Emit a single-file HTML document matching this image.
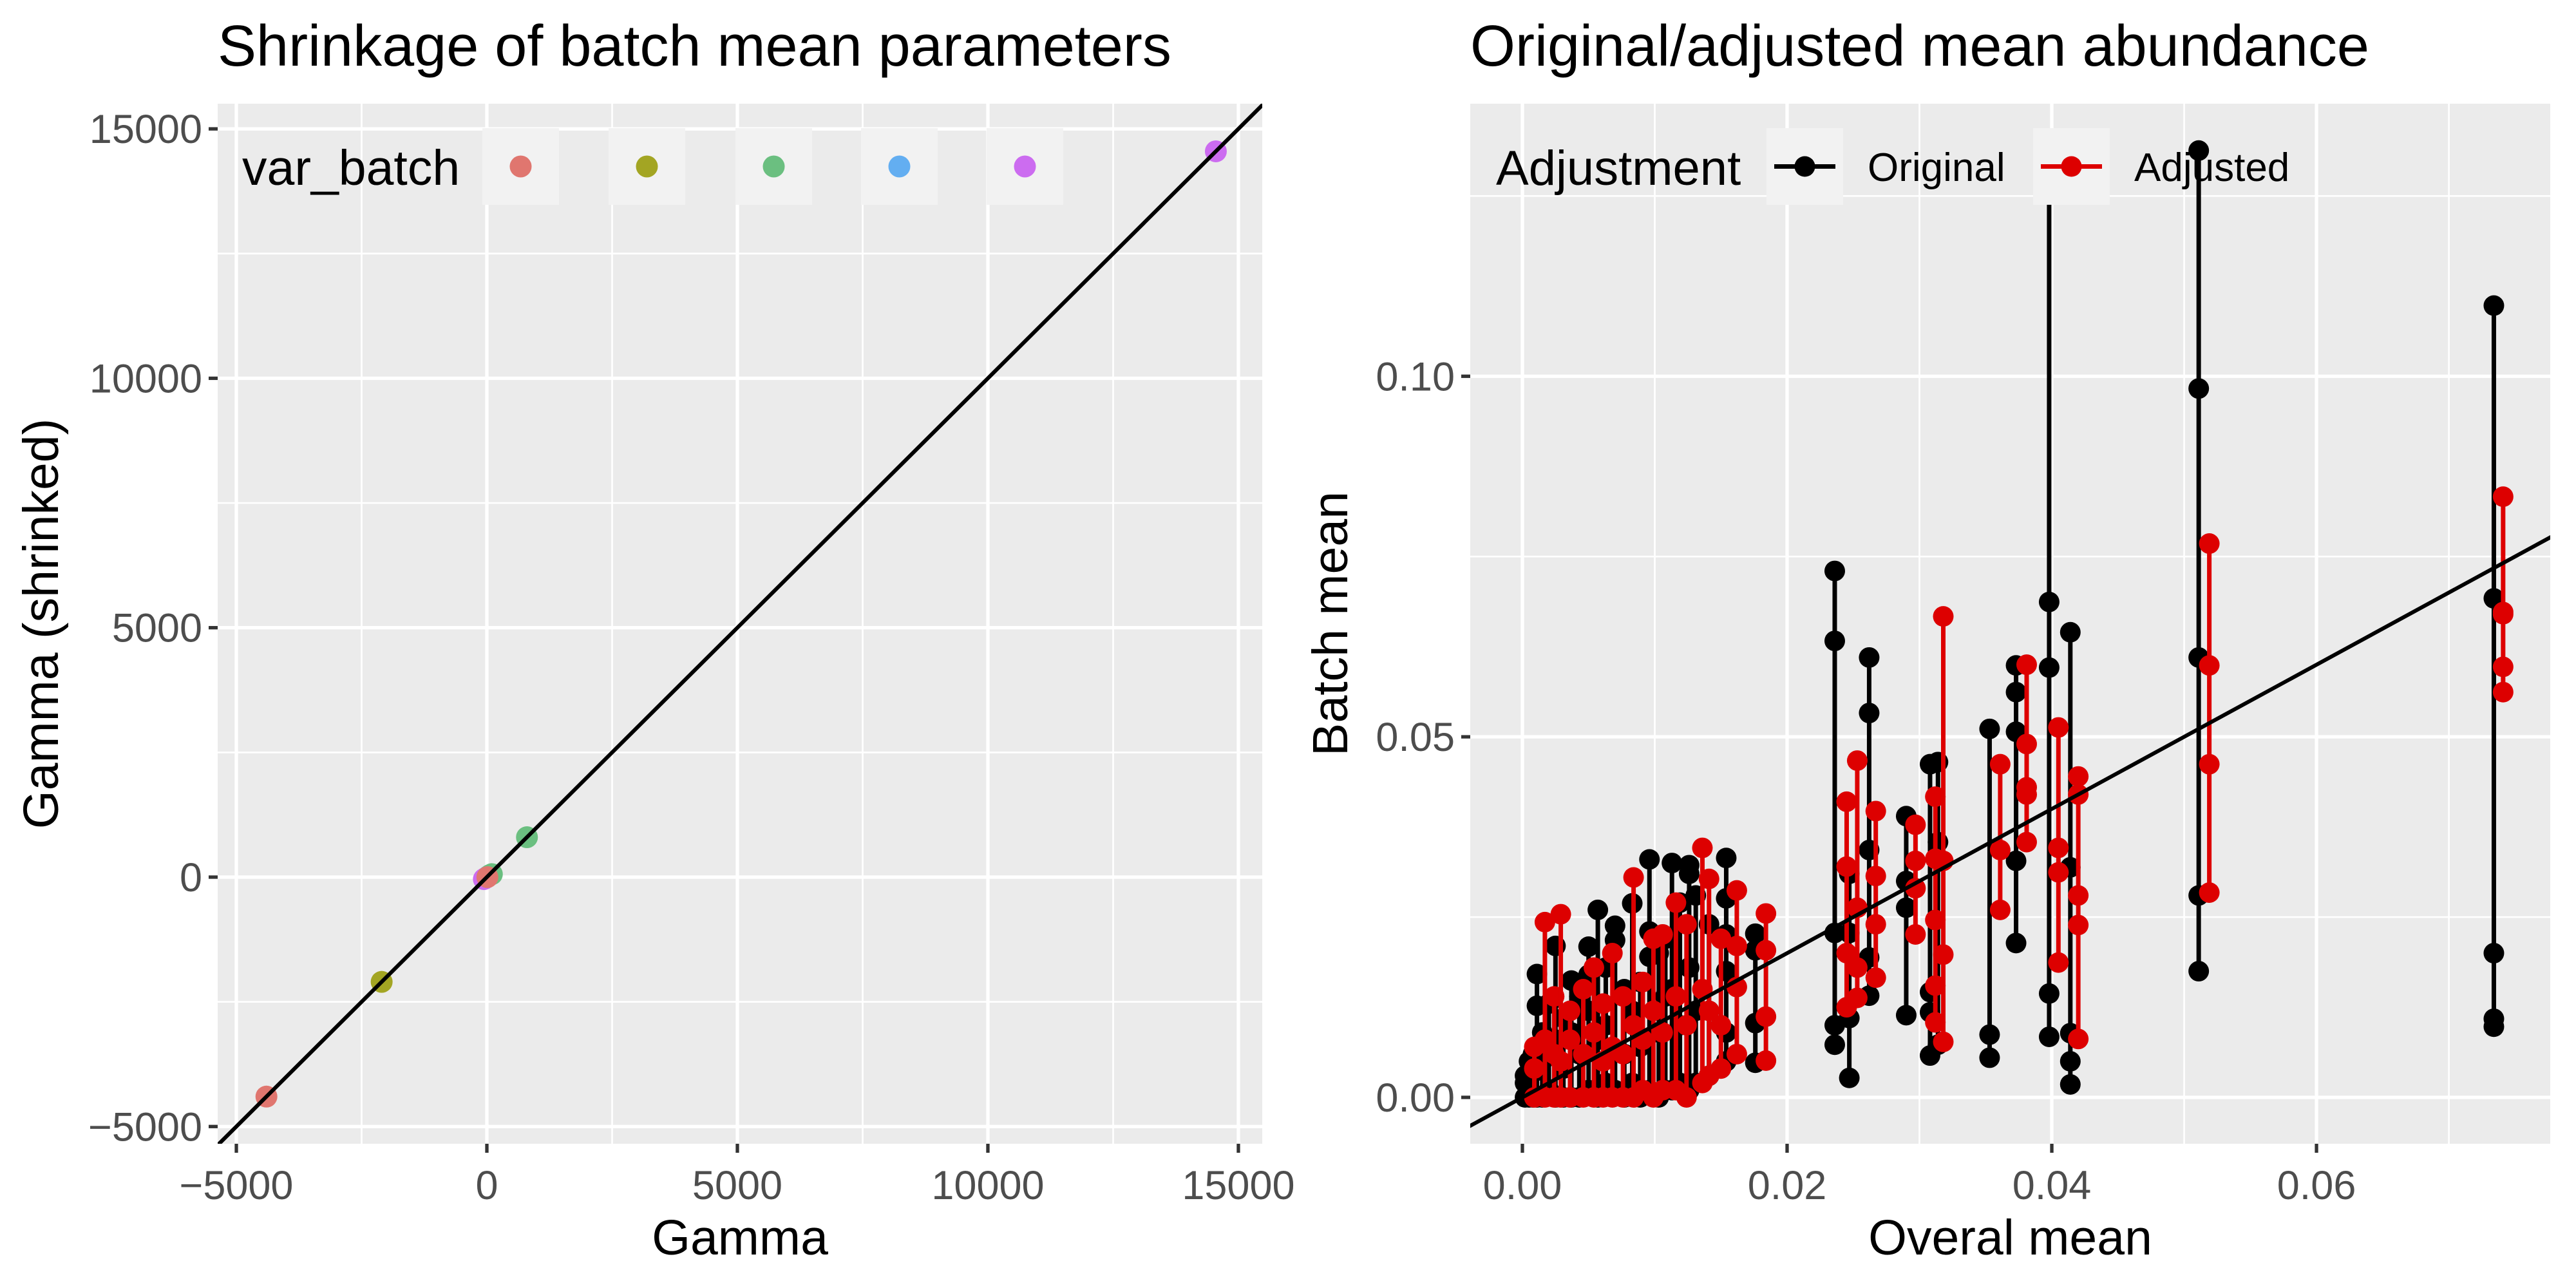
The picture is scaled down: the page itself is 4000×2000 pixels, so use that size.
<!DOCTYPE html>
<html><head><meta charset="utf-8"><style>
html,body{margin:0;padding:0;background:#fff;}
svg{display:block;font-family:"Liberation Sans",Arial,sans-serif;}
</style></head><body>
<svg id="chart" width="4000" height="2000" viewBox="0 0 4000 2000" xmlns="http://www.w3.org/2000/svg">
<rect width="4000" height="2000" fill="#fff"/>
<g id="left"></g>
<g id="right"></g>
</svg>
<script>
// ---------- Left chart data ----------
const gammaTicks = [-5000, 0, 5000, 10000, 15000];
const gammaTickLabels = ["\u22125000", "0", "5000", "10000", "15000"];
const gammaMinor = [-2500, 2500, 7500, 12500];
const batchNames = ["b1", "b2", "b3", "b4", "b5"];
const batchColors = ["#E0766F", "#A3A523", "#6BBF80", "#63AEF1", "#CC6CF0"];
const gammaRaw = [-4400, -2100, 800, 100, 14550, -30, 30, 60, -60, 10];
const gammaShrunk = [-4400, -2100, 800, 60, 14550, -20, 20, 40, -40, 0];
const gammaBatch = [0, 1, 2, 2, 4, 4, 3, 2, 4, 0];

// ---------- Right chart data ----------
const meanTicks = [0, 0.02, 0.04, 0.06];
const meanTickLabels = ["0.00", "0.02", "0.04", "0.06"];
const meanMinor = [0.01, 0.03, 0.05, 0.07];
const batchTicks = [0, 0.05, 0.10];
const batchTickLabels = ["0.00", "0.05", "0.10"];
const batchMinor = [0.025, 0.075, 0.125];
// original (black) groups
const origX = [0.0002,0.0005,0.0008,0.0011,0.0015,0.0020,0.0025,0.0031,0.0037,0.0043,0.0050,0.0057,0.0063,0.0070,0.0077,0.0083,0.0089,0.0096,0.0103,0.0108,0.0113,0.0119,0.0126,0.0131,0.0141,0.0154,0.0176,
  0.0236,0.0247,0.0262,0.0290,0.0308,0.0314,0.0353,0.0373,0.0398,0.0414,0.0511,0.0734];
const origPts = [
  [0,0.002,0.003],[0,0.003,0.005],[0,0.004,0.006],[0,0.0037,0.0127,0.0171],[0,0.005,0.009],[0.001,0.006,0.013],[0,0.008,0.021],[0,0.004,0.011],[0,0.009,0.0162],[0,0.006,0.014],[0.001,0.012,0.017,0.0209],[0,0.008,0.026],[0.002,0.010,0.018],[0.001,0.0218,0.0238],[0,0.006,0.015],[0.002,0.012,0.0269],[0,0.007,0.016],[0.001,0.0195,0.023,0.033],[0,0.009,0.020],[0.001,0.014,0.022],[0.001,0.015,0.0325],[0.002,0.010,0.027],[0.001,0.018,0.031,0.0322],[0.002,0.012,0.028],[0.003,0.012,0.024],[0.005,0.009,0.0175,0.0226,0.0276,0.0332],[0.0048,0.0103,0.0204,0.0227],
  [0.0073,0.0100,0.0228,0.0633,0.073],[0.0027,0.011,0.0228,0.031],[0.0141,0.0194,0.0343,0.0533,0.061],[0.0114,0.0263,0.030,0.039],[0.0058,0.0118,0.0146,0.0462],[0.0073,0.0354,0.0465],[0.0055,0.0087,0.0511],[0.0214,0.0328,0.0507,0.0562,0.0599],[0.0084,0.0144,0.0596,0.0687,0.129],[0.0018,0.005,0.0089,0.0319,0.0645],[0.0175,0.028,0.061,0.0983,0.1313],[0.0098,0.0109,0.020,0.0692,0.1098]
];
// adjusted (red) groups
const adjX = [0.0009,0.0017,0.0024,0.0029,0.0036,0.0046,0.0054,0.0061,0.0068,0.0076,0.0084,0.0091,0.0099,0.0106,0.0116,0.0124,0.0136,0.0141,0.0150,0.0162,0.0184,
  0.0245,0.0253,0.0267,0.0297,0.0312,0.0318,0.0361,0.0381,0.0405,0.0420,0.0519,0.0741];
const adjPts = [
  [0,0.004,0.007],[0,0.008,0.0243],[0,0.006,0.014],[0,0.005,0.0254],[0,0.008,0.012],[0,0.006,0.015],[0,0.009,0.018],[0,0.005,0.013],[0,0.007,0.020],[0,0.006,0.014],[0,0.010,0.0305],[0.001,0.008,0.016],[0,0.012,0.022],[0.001,0.009,0.0226],[0.001,0.014,0.027],[0,0.010,0.024],[0.002,0.015,0.0346],[0.003,0.012,0.0303],[0.004,0.010,0.022],[0.006,0.0153,0.021,0.0287],[0.0051,0.0112,0.0204,0.0255],
  [0.0125,0.020,0.032,0.041],[0.0138,0.018,0.0263,0.0467],[0.0166,0.024,0.0307,0.0397],[0.0226,0.029,0.0328,0.0378],[0.0104,0.0155,0.0246,0.0331,0.0417],[0.0077,0.0198,0.0328,0.0667],[0.026,0.0343,0.0462],[0.0354,0.042,0.043,0.049,0.060],[0.0187,0.0312,0.0346,0.0513],[0.0081,0.0239,0.028,0.042,0.0445],[0.0284,0.0462,0.0599,0.0768],[0.0562,0.0597,0.067,0.0673,0.0833]
];
const diagLine = [[-1, -1], [1, 1]]; // y = x reference in both panels

const NS = "http://www.w3.org/2000/svg";
function mk(parent, tag, attrs, text) {
  const e = document.createElementNS(NS, tag);
  for (const k in attrs) e.setAttribute(k, attrs[k]);
  if (text !== undefined) e.textContent = text;
  parent.appendChild(e);
  return e;
}

function panel(g, o) {
  const sx = v => o.x0 + (v - o.xmin) / (o.xmax - o.xmin) * (o.x1 - o.x0);
  const sy = v => o.y1 - (v - o.ymin) / (o.ymax - o.ymin) * (o.y1 - o.y0);
  const bg = mk(g, "rect", {x: o.x0, y: o.y0, width: o.x1 - o.x0, height: o.y1 - o.y0, fill: "#ebebeb"});
  
  
  const grid = mk(g, "g", {});
  
  
  o.xMinor.forEach(v => mk(grid, "line", {x1: sx(v), x2: sx(v), y1: o.y0, y2: o.y1, stroke: "#fff", "stroke-width": 2.7}));
  o.yMinor.forEach(v => { if (v < o.ymax) mk(grid, "line", {x1: o.x0, x2: o.x1, y1: sy(v), y2: sy(v), stroke: "#fff", "stroke-width": 2.7}); });
  o.xTicks.forEach(v => mk(grid, "line", {x1: sx(v), x2: sx(v), y1: o.y0, y2: o.y1, stroke: "#fff", "stroke-width": 5.3}));
  o.yTicks.forEach(v => mk(grid, "line", {x1: o.x0, x2: o.x1, y1: sy(v), y2: sy(v), stroke: "#fff", "stroke-width": 5.3}));
  const xa = mk(g, "g", {});
  
  
  o.xTicks.forEach((v, i) => {
    mk(xa, "line", {x1: sx(v), x2: sx(v), y1: o.y1, y2: o.y1 + 14, stroke: "#333", "stroke-width": 5.3});
    const t = mk(xa, "text", {x: sx(v), y: 1862, "text-anchor": "middle", "font-size": 63, fill: "#4d4d4d"}, o.xLabels[i]);
    
    
  });
  const ya = mk(g, "g", {});
  
  
  o.yTicks.forEach((v, i) => {
    mk(ya, "line", {x1: o.x0 - 14, x2: o.x0, y1: sy(v), y2: sy(v), stroke: "#333", "stroke-width": 5.3});
    const t = mk(ya, "text", {x: o.x0 - 24, y: sy(v) + 22, "text-anchor": "end", "font-size": 63, fill: "#4d4d4d"}, o.yLabels[i]);
    
    
  });
  const xt = mk(g, "text", {x: (o.x0 + o.x1) / 2, y: 1948, "text-anchor": "middle", "font-size": 77, fill: "#000"}, o.xTitle);
  
  
  const yt = mk(g, "text", {x: 0, y: 0, transform: `translate(${o.yTitleX},${(o.y0 + o.y1) / 2}) rotate(-90)`, "text-anchor": "middle", "font-size": 77, fill: "#000"}, o.yTitle);
  
  
  const tt = mk(g, "text", {x: o.x0, y: 102, "font-size": 90, fill: "#000"}, o.title);
  
  
  const cid = "clip-" + o.id;
  const cp = mk(g, "clipPath", {id: cid});
  mk(cp, "rect", {x: o.x0, y: o.y0, width: o.x1 - o.x0, height: o.y1 - o.y0});
  const data = mk(g, "g", {"clip-path": `url(#${cid})`});
  
  
  return {sx, sy, data};
}

// ---------- Left panel ----------
(function () {
  const g = document.getElementById("left");
  const p = panel(g, {id: "shrinkage", x0: 338, x1: 1960, y0: 161, y1: 1776, xmin: -5373, xmax: 15476, ymin: -5345, ymax: 15505,
    xTicks: gammaTicks, xLabels: gammaTickLabels, xMinor: gammaMinor, yTicks: gammaTicks, yLabels: gammaTickLabels, yMinor: gammaMinor,
    xTitle: "Gamma", yTitle: "Gamma (shrinked)", title: "Shrinkage of batch mean parameters", yTitleX: 90});
  gammaRaw.forEach((v, i) => {
    const c = mk(p.data, "circle", {cx: p.sx(v), cy: p.sy(gammaShrunk[i]), r: 17, fill: batchColors[gammaBatch[i]]});
    
    
  });
  const dl = mk(p.data, "line", {x1: p.sx(diagLine[0][0] * 6000), y1: p.sy(diagLine[0][1] * 6000), x2: p.sx(diagLine[1][0] * 16000), y2: p.sy(diagLine[1][1] * 16000), stroke: "#000", "stroke-width": 6});
  
  
  const lg = mk(g, "g", {});
  
  
  const lt = mk(lg, "text", {x: 376, y: 287, "font-size": 77, fill: "#000"}, "var_batch");
  
  
  const keyX = [749, 945, 1142, 1337, 1532];
  batchNames.forEach((b, i) => {
    const k = mk(lg, "g", {});
    
    
    mk(k, "rect", {x: keyX[i], y: 199, width: 119, height: 119, fill: "#f2f2f2"});
    mk(k, "circle", {cx: keyX[i] + 59.5, cy: 258.5, r: 17, fill: batchColors[i]});
  });
})();

// ---------- Right panel ----------
(function () {
  const g = document.getElementById("right");
  const p = panel(g, {id: "abundance", x0: 2283, x1: 3960, y0: 161, y1: 1776, xmin: -0.00394, xmax: 0.07766, ymin: -0.00643, ymax: 0.1378,
    xTicks: meanTicks, xLabels: meanTickLabels, xMinor: meanMinor, yTicks: batchTicks, yLabels: batchTickLabels, yMinor: batchMinor,
    xTitle: "Overal mean", yTitle: "Batch mean", title: "Original/adjusted mean abundance", yTitleX: 2092});
  function series(xs, pts, color, name) {
    const s = mk(p.data, "g", {});
    
    
    xs.forEach((x, i) => {
      const ys = pts[i];
      const lo = Math.min(...ys), hi = Math.max(...ys);
      const l = mk(s, "line", {x1: p.sx(x), x2: p.sx(x), y1: p.sy(lo), y2: p.sy(hi), stroke: color, "stroke-width": 7});
      
      
      ys.forEach(y => {
        const c = mk(s, "circle", {cx: p.sx(x), cy: p.sy(y), r: 16, fill: color});
        
        
      });
    });
  }
  series(origX, origPts, "#000", "original");
  series(adjX, adjPts, "#dd0000", "adjusted");
  const dl = mk(p.data, "line", {x1: p.sx(diagLine[0][0] * 0.01), y1: p.sy(diagLine[0][1] * 0.01), x2: p.sx(diagLine[1][0] * 0.08), y2: p.sy(diagLine[1][1] * 0.08), stroke: "#000", "stroke-width": 6});
  
  
  const lg = mk(g, "g", {});
  
  
  const lt = mk(lg, "text", {x: 2323, y: 287, "font-size": 76, fill: "#000"}, "Adjustment");
  
  
  const entries = [["Original", "#000", 2743, 2900], ["Adjusted", "#dd0000", 3157, 3314]];
  entries.forEach(e => {
    const k = mk(lg, "g", {});
    
    
    mk(k, "rect", {x: e[2], y: 199, width: 119, height: 119, fill: "#f2f2f2"});
    mk(k, "line", {x1: e[2] + 12, x2: e[2] + 107, y1: 258.5, y2: 258.5, stroke: e[1], "stroke-width": 7});
    mk(k, "circle", {cx: e[2] + 59.5, cy: 258.5, r: 16, fill: e[1]});
    mk(k, "text", {x: e[3], y: 281, "font-size": 62, fill: "#000"}, e[0]);
  });
})();
</script>
</body></html>
